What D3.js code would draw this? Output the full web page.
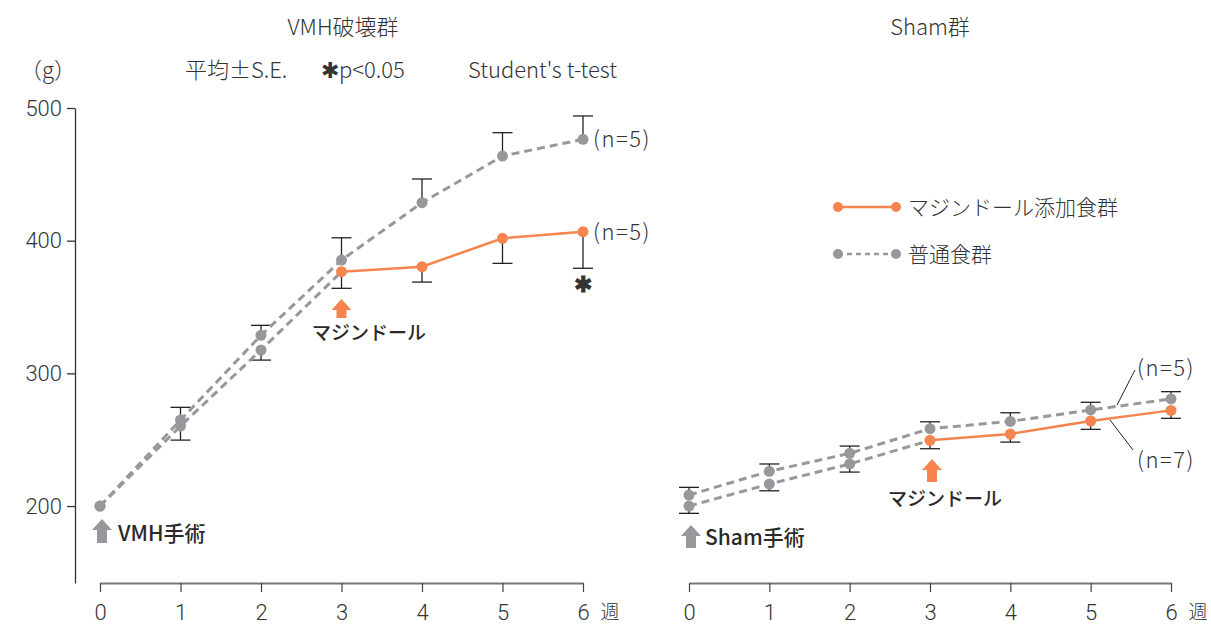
<!DOCTYPE html>
<html>
<head>
<meta charset="utf-8">
<script src="https://cdn.jsdelivr.net/npm/d3@7"></script>
<style>
  html, body { margin: 0; padding: 0; background: #fff; }
  svg { display: block; }
  text { font-family: "Noto Sans CJK JP", "Noto Sans", sans-serif; fill: #333; }
  .light { font-weight: 300; }
  .digits { font-family: Roboto, "Liberation Sans", sans-serif; font-weight: 300; }
  .label { font-weight: 500; fill: #2a2a2a; }
  .count { letter-spacing: 1.5px; }
</style>
</head>
<body>
<svg id="chart" width="1211" height="625"></svg>
<script>
// Body weight (g) over weeks, mean ± S.E.
const weeks = [0, 1, 2, 3, 4, 5, 6];
const mazindolStartWeek = 3;

// VMH-lesioned rats
const vmhNormalMean = [200, 264.8, 328.7, 385.4, 428.6, 463.8, 476.4];
const vmhNormalSE   = [0, 9.6, 7.5, 16.8, 17.9, 17.6, 17.6];
const vmhMazMean    = [200, 260.3, 317.6, 376.6, 380.4, 401.8, 406.8];
const vmhMazSE      = [0, 10.6, 7.6, 12.5, 11.6, 18.9, 27.6];

// Sham-operated rats
const shamNormalMean = [208.3, 226.2, 239.7, 258.3, 263.8, 272.4, 280.7];
const shamNormalSE   = [5.8, 5.5, 5.5, 5.2, 6.5, 5.8, 5.5];
const shamMazMean    = [200, 216.6, 231.7, 249.5, 254.3, 264.1, 272.1];
const shamMazSE      = [5.5, 5.1, 6.1, 6.3, 6.1, 6.3, 6.0];

const yTicks = [200, 300, 400, 500];
const xTicks = weeks;

const ORANGE = "#f5844f";
const GRAY = "#98989c";
const INK = "#222";

const svg = d3.select("#chart");

// shared vertical scale
const y = d3.scaleLinear().domain([142, 500]).range([583, 108]);

const xLeft = d3.scaleLinear().domain([0, 6]).range([100, 583]);
const xRight = d3.scaleLinear().domain([0, 6]).range([689, 1171]);

function drawXAxis(x) {
  const g = svg.append("g").attr("transform", "translate(0,583)")
    .call(d3.axisBottom(x).tickValues(xTicks).tickFormat(d3.format("d"))
      .tickSize(9).tickSizeOuter(0).tickPadding(12));
  g.select(".domain").attr("stroke", "#777").attr("stroke-width", 2);
  g.selectAll(".tick line").attr("stroke", "#444").attr("stroke-width", 1.2);
  g.selectAll(".tick text").attr("class", "digits").style("font-size", "22px").attr("fill", "#444");
  svg.append("text").attr("class", "light").attr("x", x(6) + 27).attr("y", 619)
    .attr("text-anchor", "middle").style("font-size", "19px").text("週");
}

function drawPanel(x, normalMean, normalSE, mazMean, mazSE) {
  const layer = svg.append("g");
  const line = d3.line().x(d => x(d.w)).y(d => y(d.v));
  const normal = weeks.map((w, i) => ({ w, v: normalMean[i], se: normalSE[i] }));
  const maz = weeks.map((w, i) => ({ w, v: mazMean[i], se: mazSE[i] }));

  // error bars: upward for normal diet, downward for mazindol group
  const bars = [];
  normal.forEach(d => { if (d.se > 0) bars.push({ w: d.w, from: d.v, to: d.v + d.se }); });
  maz.forEach(d => { if (d.se > 0) bars.push({ w: d.w, from: d.v, to: d.v - d.se }); });
  const eb = layer.append("g").attr("stroke", INK).attr("stroke-width", 1.3);
  eb.selectAll("line.v").data(bars).join("line")
    .attr("x1", d => x(d.w)).attr("x2", d => x(d.w))
    .attr("y1", d => y(d.from)).attr("y2", d => y(d.to));
  eb.selectAll("line.c").data(bars).join("line")
    .attr("x1", d => x(d.w) - 10).attr("x2", d => x(d.w) + 10)
    .attr("y1", d => y(d.to)).attr("y2", d => y(d.to));

  // lines
  const mazBefore = maz.filter(d => d.w <= mazindolStartWeek);
  const mazAfter = maz.filter(d => d.w >= mazindolStartWeek);
  layer.append("path").datum(normal).attr("d", line)
    .attr("fill", "none").attr("stroke", GRAY).attr("stroke-width", 3).attr("stroke-dasharray", "8,5");
  layer.append("path").datum(mazBefore).attr("d", line)
    .attr("fill", "none").attr("stroke", GRAY).attr("stroke-width", 3).attr("stroke-dasharray", "8,5");
  layer.append("path").datum(mazAfter).attr("d", line)
    .attr("fill", "none").attr("stroke", ORANGE).attr("stroke-width", 2.5);

  // points
  layer.selectAll("circle.n").data(normal).join("circle")
    .attr("cx", d => x(d.w)).attr("cy", d => y(d.v)).attr("r", 5.5).attr("fill", GRAY);
  layer.selectAll("circle.m").data(maz).join("circle")
    .attr("cx", d => x(d.w)).attr("cy", d => y(d.v)).attr("r", 5.5)
    .attr("fill", d => d.w >= mazindolStartWeek ? ORANGE : GRAY);
}

function arrow(cx, top, bottom, color) {
  const hw = 10, sw = 5, head = 11;
  const p = `M${cx},${top} L${cx + hw},${top + head} L${cx + sw},${top + head} L${cx + sw},${bottom}
             L${cx - sw},${bottom} L${cx - sw},${top + head} L${cx - hw},${top + head} Z`;
  svg.append("path").attr("d", p).attr("fill", color);
}

// ---- left panel: VMH lesion ----
const yAxis = svg.append("g").attr("transform", "translate(75,0)")
  .call(d3.axisLeft(y).tickValues(yTicks).tickSize(8).tickSizeOuter(0).tickPadding(5));
yAxis.select(".domain").attr("stroke", "#333").attr("stroke-width", 1.3);
yAxis.selectAll(".tick line").attr("stroke", "#333").attr("stroke-width", 1.3);
yAxis.selectAll(".tick text").attr("class", "digits").style("font-size", "22px").attr("fill", "#444");

drawXAxis(xLeft);
drawXAxis(xRight);

drawPanel(xLeft, vmhNormalMean, vmhNormalSE, vmhMazMean, vmhMazSE);
drawPanel(xRight, shamNormalMean, shamNormalSE, shamMazMean, shamMazSE);

// titles and header notes
svg.append("text").attr("class", "light").attr("x", 343).attr("y", 35)
  .attr("text-anchor", "middle").style("font-size", "22px").text("VMH破壊群");
svg.append("text").attr("class", "light").attr("x", 930).attr("y", 35)
  .attr("text-anchor", "middle").style("font-size", "22px").text("Sham群");
svg.append("text").attr("class", "light").attr("x", 20).attr("y", 78)
  .style("font-size", "22px").text("（g）");
svg.append("text").attr("class", "light").attr("x", 185).attr("y", 78)
  .style("font-size", "22px").text("平均±S.E.");
svg.append("text").attr("class", "light").attr("x", 321).attr("y", 78)
  .style("font-size", "22px").text("✱p<0.05");
svg.append("text").attr("class", "light").attr("x", 468).attr("y", 78)
  .style("font-size", "22px").text("Student's t-test");

// group sizes and significance, left panel
svg.append("text").attr("class", "light count").attr("x", xLeft(6) + 10).attr("y", y(vmhNormalMean[6]) + 8)
  .style("font-size", "22px").text("(n=5)");
svg.append("text").attr("class", "light count").attr("x", xLeft(6) + 10).attr("y", y(vmhMazMean[6]) + 8)
  .style("font-size", "22px").text("(n=5)");
svg.append("text").attr("x", xLeft(6)).attr("y", 292).attr("text-anchor", "middle")
  .style("font-size", "22px").style("font-weight", 700).attr("fill", INK).text("✱");

// event markers, left panel
arrow(xLeft(0) + 2, 519, 543, GRAY);
svg.append("text").attr("class", "label").attr("x", 118).attr("y", 541)
  .style("font-size", "21px").text("VMH手術");
arrow(xLeft(mazindolStartWeek), 299, 318, ORANGE);
svg.append("text").attr("class", "label").attr("x", 312).attr("y", 340)
  .style("font-size", "19px").text("マジンドール");

// event markers, right panel
arrow(xRight(0) + 2, 525, 548, GRAY);
svg.append("text").attr("class", "label").attr("x", 705).attr("y", 545)
  .style("font-size", "21px").text("Sham手術");
arrow(xRight(mazindolStartWeek) + 2, 459, 482, ORANGE);
svg.append("text").attr("class", "label").attr("x", 888).attr("y", 506)
  .style("font-size", "19px").text("マジンドール");

// group sizes, right panel, with leader lines
const lead = svg.append("g").attr("stroke", INK).attr("stroke-width", 1);
lead.append("line").attr("x1", 1117).attr("y1", 405).attr("x2", 1135).attr("y2", 370);
lead.append("line").attr("x1", 1110).attr("y1", 420).attr("x2", 1133).attr("y2", 450);
svg.append("text").attr("class", "light count").attr("x", 1137).attr("y", 376)
  .style("font-size", "22px").text("(n=5)");
svg.append("text").attr("class", "light count").attr("x", 1137).attr("y", 468)
  .style("font-size", "22px").text("(n=7)");

// legend
const legend = svg.append("g");
legend.append("line").attr("x1", 838).attr("x2", 896).attr("y1", 207).attr("y2", 207)
  .attr("stroke", ORANGE).attr("stroke-width", 2.5);
legend.selectAll("circle.o").data([838, 896]).join("circle")
  .attr("cx", d => d).attr("cy", 207).attr("r", 5).attr("fill", ORANGE);
legend.append("text").attr("class", "light").attr("x", 908).attr("y", 215)
  .style("font-size", "21px").text("マジンドール添加食群");
legend.append("line").attr("x1", 838).attr("x2", 896).attr("y1", 254).attr("y2", 254)
  .attr("stroke", GRAY).attr("stroke-width", 2.5).attr("stroke-dasharray", "5,4");
legend.selectAll("circle.g").data([838, 896]).join("circle")
  .attr("cx", d => d).attr("cy", 254).attr("r", 5).attr("fill", GRAY);
legend.append("text").attr("class", "light").attr("x", 908).attr("y", 262)
  .style("font-size", "21px").text("普通食群");
</script>
</body>
</html>
